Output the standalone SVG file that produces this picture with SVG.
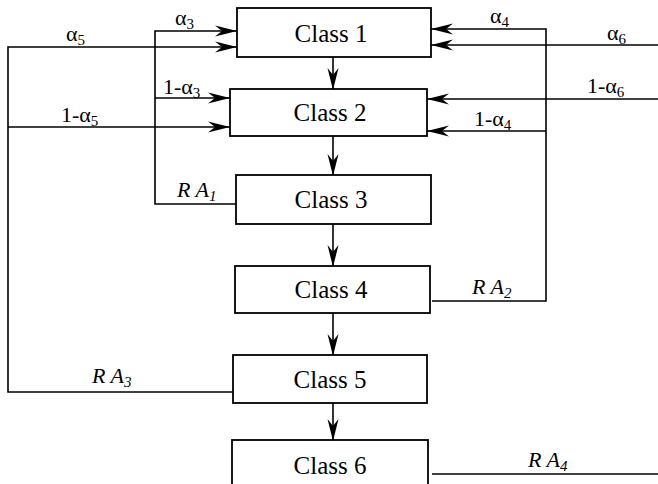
<svg xmlns="http://www.w3.org/2000/svg" width="658" height="484" viewBox="0 0 658 484">
<style>
.box{fill:#fff;stroke:#000;stroke-width:1.8}
.cls{font-family:"Liberation Serif","Times New Roman","DejaVu Serif",serif;font-size:25px;fill:#000;text-anchor:middle}
.lbl{font-family:"Liberation Serif","Times New Roman","DejaVu Serif",serif;font-size:22px;fill:#000}
.it{font-style:italic}
.sub{font-size:15px}
.ln{fill:none;stroke:#000;stroke-width:1.6}
.ar{marker-end:url(#ah)}
</style>
<defs>
<marker id="ah" markerUnits="userSpaceOnUse" markerWidth="24" markerHeight="12" viewBox="-23 -6 24 12" refX="0" refY="0" orient="auto">
<path d="M0,0 L-22,-5.5 L-15,0 L-22,5.5 Z" fill="#000"/>
</marker>
</defs>
<rect width="658" height="484" fill="#fff"/>
<g id="connectors">
<path class="ln ar" d="M233,392 H8 V47 H237"/>
<path class="ln ar" d="M8,127 H230"/>
<path class="ln ar" d="M236,204 H155 V31 H237"/>
<path class="ln ar" d="M155,98 H230"/>
<path class="ln ar" d="M432,301 H546 V29 H431"/>
<path class="ln ar" d="M546,131 H427"/>
<path class="ln ar" d="M658,45 H431"/>
<path class="ln ar" d="M658,99 H427"/>
<path class="ln" d="M432,474 H658"/>
<path class="ln ar" d="M333,57 V90"/>
<path class="ln ar" d="M333,136 V176"/>
<path class="ln ar" d="M333,224 V267"/>
<path class="ln ar" d="M333,313 V356"/>
<path class="ln ar" d="M333,403 V441"/>
<text class="lbl" x="66" y="41">α<tspan class="sub" dy="4">5</tspan></text>
<text class="lbl" x="175" y="25">α<tspan class="sub" dy="4">3</tspan></text>
<text class="lbl" x="163" y="94">1-α<tspan class="sub" dy="4">3</tspan></text>
<text class="lbl" x="61" y="122">1-α<tspan class="sub" dy="4">5</tspan></text>
<text class="lbl it" x="177" y="197">R A<tspan class="sub" dy="4">1</tspan></text>
<text class="lbl it" x="92" y="383">R A<tspan class="sub" dy="4">3</tspan></text>
<text class="lbl" x="490" y="23">α<tspan class="sub" dy="4">4</tspan></text>
<text class="lbl" x="607" y="40">α<tspan class="sub" dy="4">6</tspan></text>
<text class="lbl" x="587" y="93">1-α<tspan class="sub" dy="4">6</tspan></text>
<text class="lbl" x="474" y="126">1-α<tspan class="sub" dy="4">4</tspan></text>
<text class="lbl it" x="472" y="294">R A<tspan class="sub" dy="4">2</tspan></text>
<text class="lbl it" x="528" y="467">R A<tspan class="sub" dy="4">4</tspan></text>
</g>
<g id="class1"><rect class="box" x="237" y="8" width="194" height="49"/><text class="cls" x="331" y="42">Class 1</text></g>
<g id="class2"><rect class="box" x="230" y="89" width="197" height="47"/><text class="cls" x="330" y="121">Class 2</text></g>
<g id="class3"><rect class="box" x="236" y="175" width="195" height="49"/><text class="cls" x="331" y="208">Class 3</text></g>
<g id="class4"><rect class="box" x="235" y="266" width="195" height="47"/><text class="cls" x="331" y="298">Class 4</text></g>
<g id="class5"><rect class="box" x="233" y="355" width="194" height="48"/><text class="cls" x="330" y="388">Class 5</text></g>
<g id="class6"><rect class="box" x="232" y="440" width="196" height="60"/><text class="cls" x="330" y="474">Class 6</text></g>
</svg>
